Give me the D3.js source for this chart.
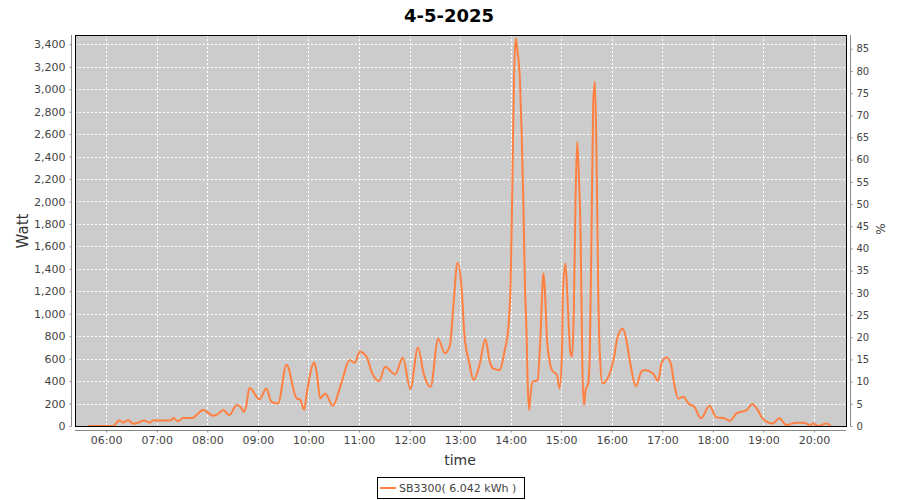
<!DOCTYPE html>
<html><head><meta charset="utf-8">
<script src="https://cdn.jsdelivr.net/npm/d3@7/dist/d3.min.js"></script>
<style>body{margin:0;background:#fff}svg{display:block}text{font-family:"DejaVu Sans",sans-serif}</style>
</head><body><svg id="c" width="900" height="500"></svg>
<script>
const title = "4-5-2025";
const seriesName = "SB3300( 6.042 kWh )";
const times = ["05:39","06:08","06:16","06:20","06:26","06:32","06:38","06:45","06:52","06:56","07:06","07:16","07:20","07:25","07:31","07:43","07:47","07:55","08:07","08:12","08:19","08:26","08:35","08:40","08:43","08:46","08:50","09:02","09:10","09:16","09:24","09:34","09:46","09:50","09:55","09:58","10:07","10:10","10:14","10:20","10:29","10:39","10:49","10:55","11:01","11:09","11:15","11:24","11:31","11:43","11:52","12:01","12:10","12:17","12:25","12:34","12:42","12:48","12:52","12:57","13:02","13:05","13:11","13:16","13:23","13:30","13:35","13:39","13:47","13:53","13:57","14:00","14:02","14:03","14:04","14:06","14:08","14:11","14:13","14:15","14:17","14:19","14:20","14:22","14:23","14:26","14:32","14:35","14:39","14:41","14:43","14:46","14:49","14:55","14:58","15:01","15:02","15:05","15:07","15:09","15:11","15:13","15:15","15:17","15:19","15:21","15:23","15:25","15:27","15:29","15:32","15:34","15:36","15:38","15:40","15:42","15:44","15:46","15:49","15:56","16:02","16:07","16:13","16:17","16:21","16:29","16:35","16:39","16:49","16:55","16:59","17:05","17:10","17:14","17:19","17:25","17:31","17:38","17:46","17:56","18:04","18:14","18:20","18:28","18:40","18:47","18:52","18:59","19:11","19:19","19:27","19:39","19:49","19:55","19:59","20:05","20:15","20:20"];
const watts = [0,0,52,30,52,20,30,48,30,52,48,48,72,42,72,72,97,142,92,103,142,97,186,165,124,171,340,237,335,216,201,545,246,237,145,290,565,468,246,290,180,380,587,563,661,617,483,400,527,460,608,329,700,460,349,777,647,721,1062,1454,1211,825,558,409,542,774,580,513,498,676,854,1270,2131,2636,3082,3453,3349,3082,2636,2012,1240,795,438,142,231,394,409,736,1360,1151,795,587,498,453,335,676,1181,1448,1211,884,647,617,1033,2012,2532,2220,1716,587,186,320,380,676,1716,2874,3067,2369,1181,617,380,438,587,795,866,780,600,355,483,498,468,403,558,611,558,380,246,260,201,171,68,180,77,68,46,112,142,195,157,68,23,68,8,29,29,5,23,0,23,0];
const xTickLabels = ["06:00","07:00","08:00","09:00","10:00","11:00","12:00","13:00","14:00","15:00","16:00","17:00","18:00","19:00","20:00"];
const wattTicks = [0,200,400,600,800,1000,1200,1400,1600,1800,2000,2200,2400,2600,2800,3000,3200,3400];
const pctTicks = [0,5,10,15,20,25,30,35,40,45,50,55,60,65,70,75,80,85];
const timeRange = ["05:23","20:38"];
const wattMax = 3483, pctMax = 88.1;

const parse = s => { const [h,m] = s.split(":").map(Number); return new Date(2025,4,4,h,m); };
const data = times.map((t,i) => ({t: parse(t), v: watts[i]}));

const svg = d3.select("#c");
const L = 75, R = 846, T = 35, B = 426;
const x = d3.scaleTime().domain(timeRange.map(parse)).range([L, R]);
const y = d3.scaleLinear().domain([0, wattMax]).range([B, T]);
const yp = d3.scaleLinear().domain([0, pctMax]).range([B, T]);
const tickDates = xTickLabels.map(parse);

svg.append("rect").attr("x", L).attr("y", T).attr("width", R-L).attr("height", B-T).attr("fill", "#cccccc");

const grid = svg.append("g").attr("stroke", "#fff").attr("stroke-dasharray", "2,2").attr("stroke-width", 1);
grid.selectAll("line.h").data(wattTicks.filter(d => d > 0)).join("line")
  .attr("x1", L).attr("x2", R).attr("y1", d => Math.round(y(d)) + 0.5).attr("y2", d => Math.round(y(d)) + 0.5);
grid.selectAll("line.v").data(tickDates).join("line")
  .attr("y1", T).attr("y2", B).attr("x1", d => Math.round(x(d)) + 0.5).attr("x2", d => Math.round(x(d)) + 0.5);

svg.append("path").datum(data)
  .attr("fill", "none").attr("stroke", "#ff8040").attr("stroke-width", 2).attr("stroke-linejoin", "round")
  .attr("d", d3.line().x(d => x(d.t)).y(d => y(d.v)).curve(d3.curveMonotoneX));

svg.append("rect").attr("x", L + 0.5).attr("y", T + 0.5).attr("width", R-L).attr("height", B-T)
  .attr("fill", "none").attr("stroke", "#000").attr("stroke-width", 1);

function styleAxis(g, fs) {
  g.select(".domain").attr("stroke", "#888");
  g.selectAll(".tick line").attr("stroke", "#888");
  g.selectAll(".tick text").attr("fill", "#444").attr("font-size", fs).attr("font-family", "DejaVu Sans");
}
const yAx = svg.append("g").attr("transform", "translate(71.5,0)")
  .call(d3.axisLeft(y).tickValues(wattTicks).tickSize(2).tickSizeOuter(0).tickPadding(4).tickFormat(d3.format(",")));
styleAxis(yAx, 11);
yAx.select(".domain").attr("d", `M0,${T}V${B}`);

const ypAx = svg.append("g").attr("transform", "translate(850.5,0)")
  .call(d3.axisRight(yp).tickValues(pctTicks).tickSize(2).tickSizeOuter(0).tickPadding(4));
styleAxis(ypAx, 10);
ypAx.select(".domain").attr("d", `M0,${T}V${B}`);

const xAx = svg.append("g").attr("transform", "translate(0,430.5)")
  .call(d3.axisBottom(x).tickValues(tickDates).tickSize(2).tickSizeOuter(0).tickPadding(4).tickFormat(d3.timeFormat("%H:%M")));
styleAxis(xAx, 11);
xAx.select(".domain").attr("d", `M${L},0H${R}`);

svg.append("text").attr("x", 449).attr("y", 22).attr("text-anchor", "middle")
  .attr("font-size", 18).attr("font-weight", "bold").attr("fill", "#000").text(title);
svg.append("text").attr("transform", "translate(28,231) rotate(-90)").attr("text-anchor", "middle")
  .attr("font-size", 15).attr("fill", "#333").text("Watt");
svg.append("text").attr("transform", "translate(885,229) rotate(-90)").attr("text-anchor", "middle")
  .attr("font-size", 12).attr("fill", "#444").text("%");
svg.append("text").attr("x", 460).attr("y", 465).attr("text-anchor", "middle")
  .attr("font-size", 14).attr("fill", "#333").text("time");

const lg = svg.append("g");
lg.append("rect").attr("x", 377.5).attr("y", 477.5).attr("width", 147).attr("height", 21)
  .attr("fill", "#fff").attr("stroke", "#000");
lg.append("line").attr("x1", 380).attr("x2", 396).attr("y1", 488).attr("y2", 488).attr("stroke", "#ff8040").attr("stroke-width", 2);
lg.append("text").attr("x", 399).attr("y", 492).attr("font-size", 11).attr("fill", "#444").text(seriesName);
</script></body></html>
